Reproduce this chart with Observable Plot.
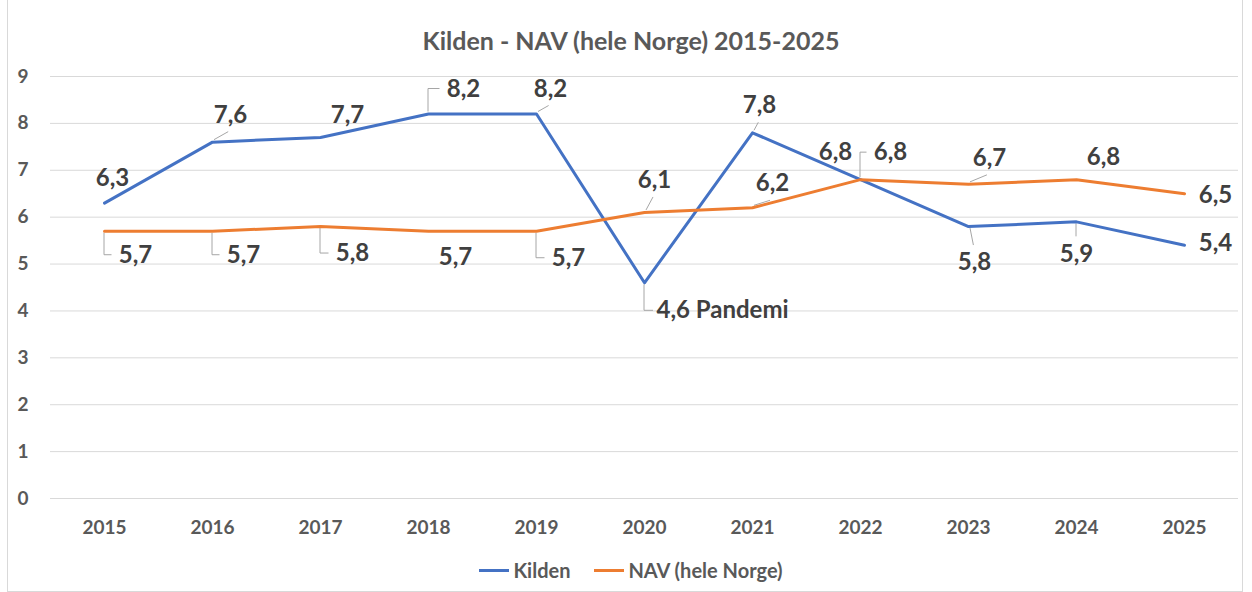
<!DOCTYPE html>
<html><head><meta charset="utf-8">
<script src="https://cdn.jsdelivr.net/npm/d3@7"></script>
<script src="https://cdn.jsdelivr.net/npm/@observablehq/plot@0.6"></script>
<style>
body{margin:0;background:#fff;font-family:Lato,"Open Sans",sans-serif;}
#wrap{position:relative;width:1252px;height:592px;overflow:hidden;background:#fff;}
#frame{position:absolute;left:7px;top:-1px;width:1234px;height:591px;border:1px solid #d9d9d9;}
#title{position:absolute;top:25px;left:0;width:1262px;text-align:center;font-size:25px;line-height:30px;font-weight:700;color:#595959;}
#chart{position:absolute;top:60px;left:0;}
#legend{position:absolute;top:557px;left:0;width:1262px;display:flex;justify-content:center;gap:24px;font-size:20px;line-height:26px;font-weight:700;color:#595959;}
.sw{display:inline-block;width:30px;height:3px;vertical-align:middle;margin-right:4px;position:relative;top:-2px}
</style></head>
<body>
<div id="wrap">
  <div id="frame"></div>
  <div id="title">Kilden - NAV (hele Norge) 2015-2025</div>
  <div id="chart"></div>
  <div id="legend">
    <span><span class="sw" style="background:#4472C4"></span>Kilden</span>
    <span><span class="sw" style="background:#ED7D31"></span>NAV (hele Norge)</span>
  </div>
</div>
<script>
// ---- data ----
const years = ["2015","2016","2017","2018","2019","2020","2021","2022","2023","2024","2025"];
const kilden = [6.3, 7.6, 7.7, 8.2, 8.2, 4.6, 7.8, 6.8, 5.8, 5.9, 5.4];
const nav    = [5.7, 5.7, 5.8, 5.7, 5.7, 6.1, 6.2, 6.8, 6.7, 6.8, 6.5];
const kildenNotes = ["", "", "", "", "", "Pandemi", "", "", "", "", ""];
const yTicks = [0,1,2,3,4,5,6,7,8,9];
const seriesNames = ["Kilden", "NAV (hele Norge)"];

// ---- layout of data labels (offsets from the point, leader type) ----
const kildenLabelLayout = [
  [8,-25,"none"],[18,-27,"diag"],[27,-22,"none"],[35,-25,"up"],[14,-25,"diag"],
  [12,28,"down"],[7,-27,"diag"],[-25,-27,"none"],[6,36,"diag"],[0,32,"diag"],[31,-2,"none"]
];
const navLabelLayout = [
  [31,24,"down"],[31,24,"down"],[32,27,"down"],[27,26,"none"],[32,27,"down"],
  [10,-32,"diag"],[20,-24,"diag"],[30,-27,"up"],[21,-26,"diag"],[27,-22,"none"],[31,2,"none"]
];

const colors = {"Kilden": "#4472C4", "NAV (hele Norge)": "#ED7D31"};
const fmt = v => v.toFixed(1).replace(".", ",");

const rows = [];
years.forEach((y,i) => {
  rows.push({series: seriesNames[0], year: y, value: kilden[i], note: kildenNotes[i], layout: kildenLabelLayout[i]});
  rows.push({series: seriesNames[1], year: y, value: nav[i], note: "", layout: navLabelLayout[i]});
});

function leaderMark(index, scales) {
  const g = d3.create("svg:g").attr("fill","none").attr("stroke","#a6a6a6").attr("stroke-width",1);
  for (const d of rows) {
    const [dx, dy, type] = d.layout;
    if (type === "none") continue;
    const x = scales.x(d.year), y = scales.y(d.value);
    const label = fmt(d.value) + (d.note ? " " + d.note : "");
    let path;
    if (type === "down" || type === "up") {
      const ly = y + dy;
      const halfW = d.note ? 0 : label.length * 6.5;
      const endX = d.note ? x + dx - 3 : x + dx - halfW - 4;
      path = `M${x},${y + (type==="down"?2:-2)}V${ly}H${endX}`;
    } else {
      const ey = dy < 0 ? y + dy + 17 : y + dy - 17;
      const ex = x + dx * 0.9;
      path = `M${x + (dx>0?2:0)},${y + (dy<0?-2:2)}L${ex},${ey}`;
    }
    g.append("path").attr("d", path);
  }
  return g.node();
}

const labelMarks = rows.map(d => {
  const [dx, dy] = d.layout;
  return Plot.text([d], {
    x: "year", y: "value",
    text: r => fmt(r.value) + (r.note ? " " + r.note : ""),
    dx, dy,
    textAnchor: d.note ? "start" : "middle",
    fontSize: 24, fontWeight: 700, fill: "#404040"
  });
});

const chart = Plot.plot({
  width: 1252, height: 490,
  marginLeft: 50, marginRight: 14, marginTop: 16, marginBottom: 52,
  style: {fontFamily: "Lato, 'Open Sans', sans-serif", fontSize: "19px", fontWeight: 700, color: "#595959", background: "transparent"},
  x: {type: "point", domain: years, padding: 0.5, label: null},
  y: {domain: [0, 9], label: null},
  marks: [
    Plot.gridY(yTicks, {stroke: "#d9d9d9", strokeOpacity: 1, strokeWidth: 1}),
    Plot.axisY(yTicks, {tickSize: 0, tickPadding: 22, label: null, tickFormat: d => String(d)}),
    Plot.axisX({tickSize: 0, tickPadding: 22, label: null}),
    leaderMark,
    Plot.line(rows, {x: "year", y: "value", z: "series", stroke: d => colors[d.series], strokeWidth: 3, strokeLinejoin: "round"}),
    ...labelMarks
  ]
});
document.getElementById("chart").appendChild(chart);
</script>
</body></html>
